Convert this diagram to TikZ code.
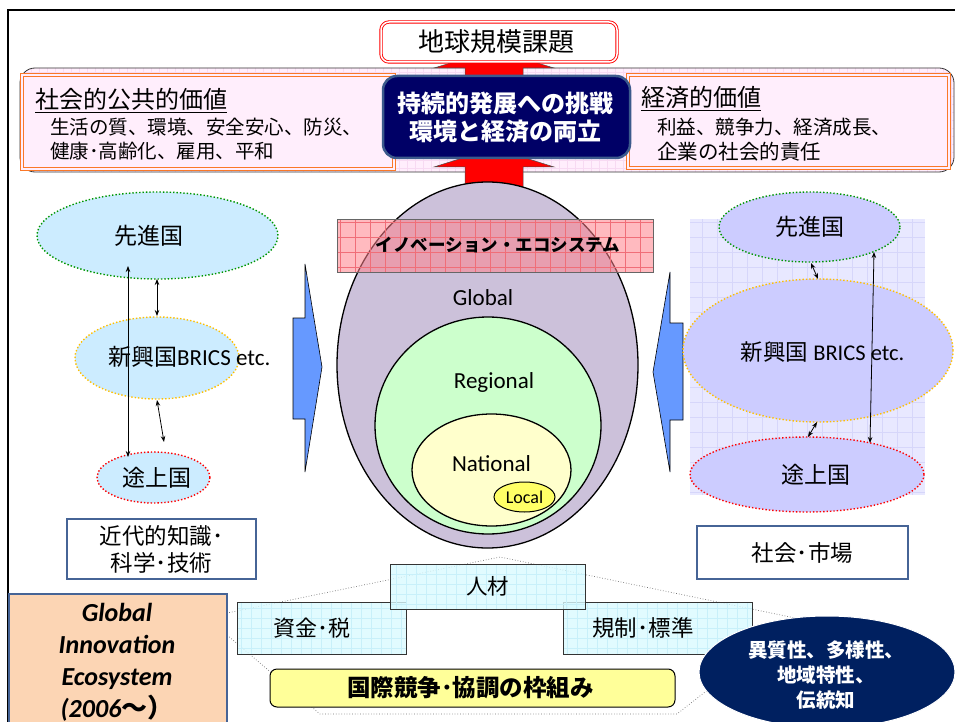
\documentclass[tikz,border=0pt]{standalone}
\usepackage{fontspec}
\setmainfont{Carlito}
\newfontfamily\jp{Noto Sans CJK JP}
\usetikzlibrary{shapes.geometric,arrows.meta}
\definecolor{bandfill}{RGB}{255,238,252}
\definecolor{bandgrid}{RGB}{247,218,242}
\definecolor{orangeline}{RGB}{250,120,40}
\definecolor{navybox}{RGB}{0,0,102}
\definecolor{navyedge}{RGB}{60,90,140}
\definecolor{globalfill}{RGB}{204,193,218}
\definecolor{regfill}{RGB}{204,255,204}
\definecolor{natfill}{RGB}{255,255,204}
\definecolor{localfill}{RGB}{255,255,102}
\definecolor{ecopink}{RGB}{255,130,140}
\definecolor{ecogrid}{RGB}{240,110,120}
\definecolor{bluearrow}{RGB}{102,153,255}
\definecolor{leftell}{RGB}{204,236,255}
\definecolor{rightell}{RGB}{204,204,255}
\definecolor{rightbg}{RGB}{232,232,255}
\definecolor{rightgrid}{RGB}{214,214,250}
\definecolor{steel}{RGB}{70,100,150}
\definecolor{cyanfill}{RGB}{218,250,255}
\definecolor{cyangrid}{RGB}{200,240,250}
\definecolor{yellowbox}{RGB}{255,255,153}
\definecolor{giefill}{RGB}{252,213,180}
\definecolor{navyell}{RGB}{0,32,96}
\definecolor{dotgreen}{RGB}{0,150,0}
\definecolor{dotgold}{RGB}{255,192,0}
\definecolor{dotred}{RGB}{255,0,0}
\tikzset{
  gridded/.style 2 args={path picture={\draw[#1, line width=0.4pt, step=#2]
      (path picture bounding box.south west) grid (path picture bounding box.north east);}},
  orangebox/.style={draw=orangeline, double=bandfill, double distance=1.6pt, line width=0.9pt,
      fill=bandfill, inner sep=0pt},
  ell/.style={ellipse, draw=black, line width=1.3pt, inner sep=0pt},
  dotell/.style={ellipse, dotted, line width=1.4pt, inner sep=0pt},
  steelbox/.style={draw=steel, line width=1.8pt, fill=white, inner sep=0pt},
  cyanbox/.style={draw=black!80, line width=1pt, fill=cyanfill, fill opacity=0.8, text opacity=1,
      gridded={cyangrid}{10pt}, inner sep=0pt},
  dbl/.style={{Stealth[length=6pt,width=4.5pt]}-{Stealth[length=6pt,width=4.5pt]}, line width=0.8pt},
  redarrow/.style={fill=red, draw=black!70, line width=0.5pt},
  bluearr/.style={fill=bluearrow, draw=black, line width=0.6pt},
  lbl/.style={inner sep=0pt, align=center}
}
\begin{document}
\begin{tikzpicture}[x=1pt,y=-1pt]
\clip (0,0) rectangle (955,722);
\fill[white] (0,0) rectangle (955,722);
% outer frame
\draw[line width=2.5pt] (8,740) -- (8,10) -- (970,10);

% top band
\node[draw=black!80, line width=0.8pt, rounded corners=15, fill=bandfill, gridded={bandgrid}{8pt},
      minimum width=934pt, minimum height=104pt, inner sep=0pt] (band) at (487,120) {};
\node[orangebox, minimum width=372pt, minimum height=94pt] (social) at (208,122) {};
\node[orangebox, minimum width=321pt, minimum height=93pt] (econ) at (788.5,121.5) {};
\node[anchor=base west, inner sep=0pt, font=\jp\fontsize{24}{26}\selectfont] (socialT) at (35,108.5) {\underline{社会的公共的価値}};
\node[anchor=base west, inner sep=0pt, font=\jp\fontsize{19.5}{22}\selectfont] (socialA) at (50,135) {生活の質、環境、安全安心、防災、};
\node[anchor=base west, inner sep=0pt, font=\jp\fontsize{19.5}{22}\selectfont] (socialB) at (50,159) {健康･高齢化、雇用、平和};
\node[anchor=base west, inner sep=0pt, font=\jp\fontsize{24}{26}\selectfont] (econT) at (641,106.5) {\underline{経済的価値}};
\node[anchor=base west, inner sep=0pt, font=\jp\fontsize{19.5}{22}\selectfont] (econA) at (657,135) {利益、競争力、経済成長、};
\node[anchor=base west, inner sep=0pt, font=\jp\fontsize{20.5}{22}\selectfont] (econB) at (657,160) {企業の社会的責任};

% red arrows
\draw[redarrow] (465,205)--(465,167)--(434,167)--(494,148)--(554,167)--(523,167)--(523,205)--cycle;
\draw[redarrow] (465,150)--(465,68)--(434,68)--(494,50)--(554,68)--(523,68)--(523,150)--cycle;

% navy box
\node[draw=navyedge, line width=2.5pt, fill=navybox, rounded corners=14, minimum width=247pt,
      minimum height=82pt, inner sep=0pt] (goal) at (506.5,117) {};
\node[lbl, text=white, font=\jp\bfseries\fontsize{24}{28}\selectfont] (goalT) at (505,118) {持続的発展への挑戦\\環境と経済の両立};

% top box
\node[draw=red, double=white, double distance=1.5pt, line width=0.9pt, rounded corners=8, fill=white,
      minimum width=236pt, minimum height=40pt, inner sep=0pt, font=\jp\fontsize{26}{28}\selectfont] (issue) at (499,42) {\hspace*{-6pt}地球規模課題};

% central ellipses
\node[ell, fill=globalfill, minimum width=301pt, minimum height=366pt] (global) at (487.5,365) {};
\node[ell, fill=regfill, minimum width=226pt, minimum height=217pt] (regional) at (488,425.5) {};
\node[ell, fill=natfill, minimum width=159pt, minimum height=112pt] (national) at (491.5,470) {};
\node[ell, line width=1pt, fill=localfill, minimum width=61pt, minimum height=30pt,
      font=\fontsize{18}{20}\selectfont] (local) at (524.5,497) {Local};
\node[lbl, font=\fontsize{23}{26}\selectfont] (globalT) at (483,298) {Global};
\node[lbl, font=\fontsize{23}{26}\selectfont] (regionalT) at (494,382) {Regional};
\node[lbl, font=\fontsize{23}{26}\selectfont] (nationalT) at (491.5,464) {National};

% innovation ecosystem band
\node[draw=black!60, line width=0.8pt, fill=ecopink, fill opacity=0.55, text opacity=1,
      gridded={ecogrid}{15pt}, minimum width=316pt, minimum height=53pt, inner sep=0pt,
      font=\jp\bfseries\fontsize{17.5}{20}\selectfont] (eco) at (495,245.5) {\hspace*{6pt}イノベーション・エコシステム};

% blue arrows
\draw[bluearr] (293,318)--(305,318)--(305,264)--(322,367)--(305,472)--(305,419)--(293,419)--cycle;
\draw[bluearr] (683,323)--(670,323)--(670,272)--(653,372)--(670,472)--(670,420)--(683,420)--cycle;

% left side
\node[dotell, draw=dotgreen, fill=leftell, minimum width=241pt, minimum height=87pt,
      font=\jp\fontsize{23}{24}\selectfont] (lA) at (157.5,235.5) {\hspace*{-18pt}先進国};
\node[dotell, draw=dotgold, fill=leftell, minimum width=164pt, minimum height=82pt] (lB) at (157,358) {};
\node[anchor=west, inner sep=0pt, font=\fontsize{23}{24}\selectfont] (lBT) at (108,357) {{\jp 新興国}BRICS etc.};
\node[dotell, draw=dotred, fill=leftell, minimum width=113pt, minimum height=51pt,
      font=\jp\fontsize{23}{24}\selectfont] (lC) at (153.5,477.5) {\hspace*{6pt}途上国};
\coordinate (l1a) at (128,266); \coordinate (l1b) at (128,457);
\coordinate (l2a) at (157,279); \coordinate (l2b) at (157,316);
\coordinate (l3a) at (157,400); \coordinate (l3b) at (164,442);
\draw[dbl] (l1a) -- (l1b);
\draw[dbl] (l2a) -- (l2b);
\draw[dbl] (l3a) -- (l3b);
\node[steelbox, minimum width=189pt, minimum height=60pt, align=center,
      font=\jp\fontsize{22.5}{27}\selectfont] (knowledge) at (161.5,549) {近代的知識･\\科学･技術};

% right side
\node[fill=rightbg, gridded={rightgrid}{15pt}, minimum width=235pt, minimum height=276pt, inner sep=0pt] (rbg) at (807.5,357) {};
\node[dotell, draw=dotgreen, fill=rightell, minimum width=181pt, minimum height=70pt,
      font=\jp\fontsize{23}{24}\selectfont] (rA) at (809.5,227) {先進国};
\node[dotell, draw=dotgold, fill=rightell, minimum width=270pt, minimum height=143pt] (rB) at (818,350.5) {};
\node[lbl, font=\fontsize{22.5}{24}\selectfont] (rBT) at (822.5,352) {{\jp 新興国} BRICS etc.};
\node[dotell, draw=dotred, fill=rightell, minimum width=234pt, minimum height=75pt,
      font=\jp\fontsize{23}{24}\selectfont] (rC) at (807,474.5) {\hspace*{18pt}途上国};
\coordinate (r1a) at (874,252); \coordinate (r1b) at (870,443);
\coordinate (r2a) at (811,263); \coordinate (r2b) at (818,279);
\coordinate (r3a) at (817,422); \coordinate (r3b) at (808,437);
\draw[dbl] (r1a) -- (r1b);
\draw[dbl] (r2a) -- (r2b);
\draw[dbl] (r3a) -- (r3b);
\node[steelbox, minimum width=211pt, minimum height=53pt,
      font=\jp\fontsize{22.5}{24}\selectfont] (market) at (802.5,552.5) {社会･市場};

% bottom dotted outline
\draw[black!55, dotted, line width=0.7pt] (227,635)--(227,613)--(500,557)--(800,619)--(835,650)--(705,692)--(677,714)--(320,714)--cycle;

% bottom boxes
\node[cyanbox, minimum width=169pt, minimum height=52pt] (fund) at (321.5,628) {};
\node[lbl, font=\jp\fontsize{22}{22}\selectfont] (fundT) at (312,628) {資金･税};
\node[cyanbox, minimum width=189pt, minimum height=52pt] (rule) at (657.5,628) {};
\node[lbl, font=\jp\fontsize{22.5}{22}\selectfont] (ruleT) at (643,628) {規制･標準};
\node[cyanbox, minimum width=195pt, minimum height=45pt,
      font=\jp\fontsize{21.5}{22}\selectfont] (people) at (487.5,586.5) {人材};
\node[draw=black, line width=1pt, fill=yellowbox, rounded corners=7, minimum width=405pt,
      minimum height=38pt, inner sep=0pt, font=\jp\bfseries\fontsize{23.5}{24}\selectfont] (frame) at (472.5,688) {\hspace*{-4pt}国際競争･協調の枠組み};

% navy ellipse
\node[ellipse, fill=navyell, draw=white, line width=1pt, minimum width=256pt, minimum height=112pt,
      inner sep=0pt] (diversity) at (827,672) {};
\node[lbl, text=white, font=\jp\bfseries\fontsize{19.5}{25}\selectfont] (diversityT) at (826,675) {異質性、多様性、\\地域特性、\\伝統知};

% Global Innovation Ecosystem box
\node[draw=steel, line width=1.8pt, fill=giefill, minimum width=218pt, minimum height=150pt,
      inner sep=0pt, anchor=north west] (gie) at (8,593) {};
\node[lbl, font=\bfseries\itshape\fontsize{26}{32}\selectfont] (gieT) at (117,662) {Global\\Innovation\\Ecosystem\\(2006{\jp\upshape 〜）}};
\end{tikzpicture}
\end{document}
